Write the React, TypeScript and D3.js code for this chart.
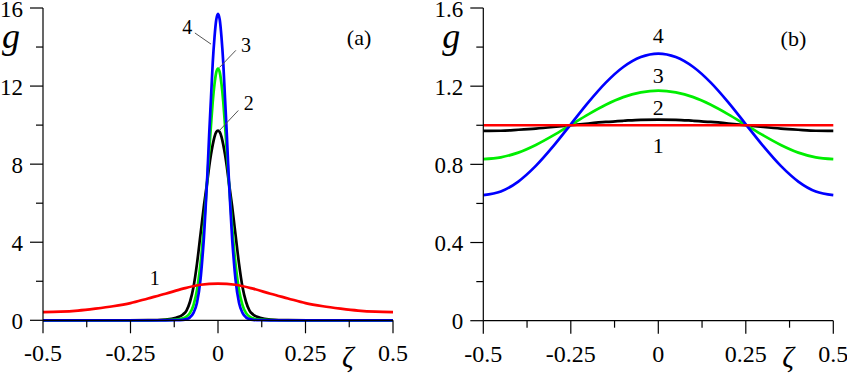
import React from "react";
import * as d3 from "d3";

// ---------- Panel (a) data ----------
const zetaA = [-0.5, -0.4, -0.3, -0.2, -0.15, -0.12, -0.1, -0.09, -0.08, -0.07, -0.06, -0.05, -0.045, -0.04, -0.035, -0.03, -0.025, -0.02, -0.015, -0.01, -0.005, 0,
  0.005, 0.01, 0.015, 0.02, 0.025, 0.03, 0.035, 0.04, 0.045, 0.05, 0.06, 0.07, 0.08, 0.09, 0.1, 0.12, 0.15, 0.2, 0.3, 0.4, 0.5];
const gA2 = [0, 0, 0, 0.005, 0.04, 0.13, 0.3, 0.5, 0.95, 1.7, 2.9, 4.4, 5.15, 5.9, 6.55, 7.2, 7.9, 8.5, 9.0, 9.4, 9.65, 9.72,
  9.65, 9.4, 9.0, 8.5, 7.9, 7.2, 6.55, 5.9, 5.15, 4.4, 2.9, 1.7, 0.95, 0.5, 0.3, 0.13, 0.04, 0.005, 0, 0, 0];
const gA3 = [0, 0, 0, 0, 0.005, 0.03, 0.1, 0.19, 0.38, 0.78, 1.55, 2.9, 3.8, 4.9, 6.1, 7.4, 8.7, 10.0, 11.2, 12.1, 12.7, 12.9,
  12.7, 12.1, 11.2, 10.0, 8.7, 7.4, 6.1, 4.9, 3.8, 2.9, 1.55, 0.78, 0.38, 0.19, 0.1, 0.03, 0.005, 0, 0, 0, 0];
const gA4 = [0, 0, 0, 0, 0, 0.005, 0.025, 0.06, 0.15, 0.38, 0.9, 2.1, 3.1, 4.3, 5.9, 7.6, 9.6, 11.4, 13.2, 14.5, 15.4, 15.7,
  15.4, 14.5, 13.2, 11.4, 9.6, 7.6, 5.9, 4.3, 3.1, 2.1, 0.9, 0.38, 0.15, 0.06, 0.025, 0.005, 0, 0, 0, 0, 0];
const zetaA1 = [-0.5, -0.45, -0.4, -0.35, -0.3, -0.25, -0.2, -0.15, -0.1, -0.05, 0, 0.05, 0.1, 0.15, 0.2, 0.25, 0.3, 0.35, 0.4, 0.45, 0.5];
const gA1 = [0.42, 0.44, 0.5, 0.6, 0.72, 0.88, 1.12, 1.36, 1.62, 1.82, 1.88, 1.82, 1.62, 1.36, 1.12, 0.88, 0.72, 0.6, 0.5, 0.44, 0.42];

// ---------- Panel (b) data ----------
const zetaB = [-0.5, -0.45, -0.4, -0.35, -0.3, -0.25, -0.2, -0.15, -0.1, -0.05, 0, 0.05, 0.1, 0.15, 0.2, 0.25, 0.3, 0.35, 0.4, 0.45, 0.5];
const gB1 = [1, 1, 1, 1, 1, 1, 1, 1, 1, 1, 1, 1, 1, 1, 1, 1, 1, 1, 1, 1, 1];
const gB2 = [0.971, 0.972, 0.977, 0.983, 0.991, 1.0, 1.009, 1.017, 1.023, 1.028, 1.029, 1.028, 1.023, 1.017, 1.009, 1.0, 0.991, 0.983, 0.977, 0.972, 0.971];
const gB3 = [0.827, 0.836, 0.86, 0.899, 0.948, 1.002, 1.056, 1.105, 1.144, 1.168, 1.177, 1.168, 1.144, 1.105, 1.056, 1.002, 0.948, 0.899, 0.86, 0.836, 0.827];
const gB4 = [0.643, 0.661, 0.712, 0.792, 0.893, 1.005, 1.117, 1.218, 1.298, 1.349, 1.367, 1.349, 1.298, 1.218, 1.117, 1.005, 0.893, 0.792, 0.712, 0.661, 0.643];

// ---------- Ticks ----------
const xMajor = [-0.5, -0.25, 0, 0.25, 0.5];
const xMajorLabels = ["-0.5", "-0.25", "0", "0.25", "0.5"];
const xMinor = [-0.375, -0.125, 0.125, 0.375];
const yMajorA = [0, 4, 8, 12, 16];
const yMajorLabelsA = ["0", "4", "8", "12", "16"];
const yMinorA = [2, 6, 10, 14];
const yMajorB = [0, 0.4, 0.8, 1.2, 1.6];
const yMajorLabelsB = ["0", "0.4", "0.8", "1.2", "1.6"];
const yMinorB = [0.2, 0.6, 1.0, 1.4];

const RED = "#ff0000";
const BLACK = "#000000";
const GREEN = "#00ee00";
const BLUE = "#0000ff";
const FONT = "Liberation Serif, Tinos, DejaVu Serif, Times New Roman, Times, serif";

type Series = { x: number[]; y: number[]; color: string };

function T(props: any) {
  const { children, style, ...rest } = props;
  return <text {...rest} style={{ fontFamily: FONT, ...(style || {}) }}>{children}</text>;
}

function Panel(props: {
  left: number; right: number; top: number; bottom: number; yMax: number;
  yMajor: number[]; yMajorLabels: string[]; yMinor: number[];
  series: Series[]; tag: string; tagPos: [number, number];
  labels: { t: string; x: number; y: number; size: number }[];
  leaders: { x1: number; y1: number; x2: number; y2: number }[];
}) {
  const x = d3.scaleLinear().domain([-0.5, 0.5]).range([props.left, props.right]);
  const y = d3.scaleLinear().domain([0, props.yMax]).range([props.bottom, props.top]);
  const line = (s: Series) =>
    d3.line<number>().x((_, i) => x(s.x[i])).y((d) => y(d)).curve(d3.curveMonotoneX)(s.y) || "";
  return (
    <g>
      {props.series.map((s, i) => (
        <path key={i} d={line(s)} fill="none" stroke={s.color} strokeWidth={2.7} strokeLinejoin="round" />
      ))}
      <line x1={props.left} x2={props.left} y1={props.top} y2={props.bottom} stroke="#000" strokeWidth={1.2} />
      <line x1={props.left} x2={props.right} y1={props.bottom} y2={props.bottom} stroke="#000" strokeWidth={1.2} />
      {xMajor.map((v, i) => (
        <g key={"xm" + i}>
          <line x1={x(v)} x2={x(v)} y1={props.bottom} y2={props.bottom + 13} stroke="#000" strokeWidth={1.2} />
          <T x={x(v)} y={props.bottom + 41} textAnchor="middle" fontSize={24}>{xMajorLabels[i]}</T>
        </g>
      ))}
      {xMinor.map((v, i) => (
        <line key={"xn" + i} x1={x(v)} x2={x(v)} y1={props.bottom} y2={props.bottom + 7} stroke="#000" strokeWidth={1.2} />
      ))}
      {props.yMajor.map((v, i) => (
        <g key={"ym" + i}>
          <line x1={props.left - 13} x2={props.left} y1={y(v)} y2={y(v)} stroke="#000" strokeWidth={1.2} />
          <T x={props.left - 20} y={y(v) + 8.6} textAnchor="end" fontSize={23}>{props.yMajorLabels[i]}</T>
        </g>
      ))}
      {props.yMinor.map((v, i) => (
        <line key={"yn" + i} x1={props.left - 7} x2={props.left} y1={y(v)} y2={y(v)} stroke="#000" strokeWidth={1.2} />
      ))}
      <T x={props.left - 41} y={48} fontStyle="italic" fontSize={36}>g</T>
      <T x={props.right - 51} y={367} fontStyle="italic" fontSize={29}>ζ</T>
      <T x={x(props.tagPos[0])} y={y(props.tagPos[1])} textAnchor="middle" fontSize={22}>{props.tag}</T>
      {props.leaders.map((l, i) => (
        <line key={"ld" + i} x1={x(l.x1)} y1={y(l.y1)} x2={x(l.x2)} y2={y(l.y2)} stroke="#555" strokeWidth={1} />
      ))}
      {props.labels.map((l, i) => (
        <T key={"lb" + i} x={x(l.x)} y={y(l.y)} textAnchor="middle" fontSize={l.size}>{l.t}</T>
      ))}
    </g>
  );
}

export default function App() {
  return (
    <svg width={847} height={375} style={{ position: "absolute", left: 0, top: 0, background: "#fff" }}>
      <rect width={847} height={375} fill="#fff" />
      <Panel
        left={43} right={393} top={8} bottom={320.3} yMax={16}
        yMajor={yMajorA} yMajorLabels={yMajorLabelsA} yMinor={yMinorA}
        series={[
          { x: zetaA, y: gA2, color: BLACK },
          { x: zetaA, y: gA3, color: GREEN },
          { x: zetaA, y: gA4, color: BLUE },
          { x: zetaA1, y: gA1, color: RED },
        ]}
        tag="(a)" tagPos={[0.403, 14.1]}
        labels={[
          { t: "4", x: -0.088, y: 14.68, size: 20 },
          { t: "3", x: 0.08, y: 13.77, size: 20 },
          { t: "2", x: 0.088, y: 10.78, size: 20 },
          { t: "1", x: -0.181, y: 1.81, size: 20 },
        ]}
        leaders={[
          { x1: -0.066, y1: 14.72, x2: -0.02, y2: 14.15 },
          { x1: 0.051, y1: 13.83, x2: 0.004, y2: 12.95 },
          { x1: 0.058, y1: 10.75, x2: 0.004, y2: 9.72 },
        ]}
      />
      <Panel
        left={483.3} right={833.3} top={8} bottom={320.7} yMax={1.6}
        yMajor={yMajorB} yMajorLabels={yMajorLabelsB} yMinor={yMinorB}
        series={[
          { x: zetaB, y: gB2, color: BLACK },
          { x: zetaB, y: gB3, color: GREEN },
          { x: zetaB, y: gB4, color: BLUE },
          { x: zetaB, y: gB1, color: RED },
        ]}
        tag="(b)" tagPos={[0.386, 1.406]}
        labels={[
          { t: "4", x: 0, y: 1.421, size: 22 },
          { t: "3", x: 0, y: 1.216, size: 22 },
          { t: "2", x: 0, y: 1.053, size: 22 },
          { t: "1", x: 0, y: 0.858, size: 22 },
        ]}
        leaders={[]}
      />
    </svg>
  );
}
